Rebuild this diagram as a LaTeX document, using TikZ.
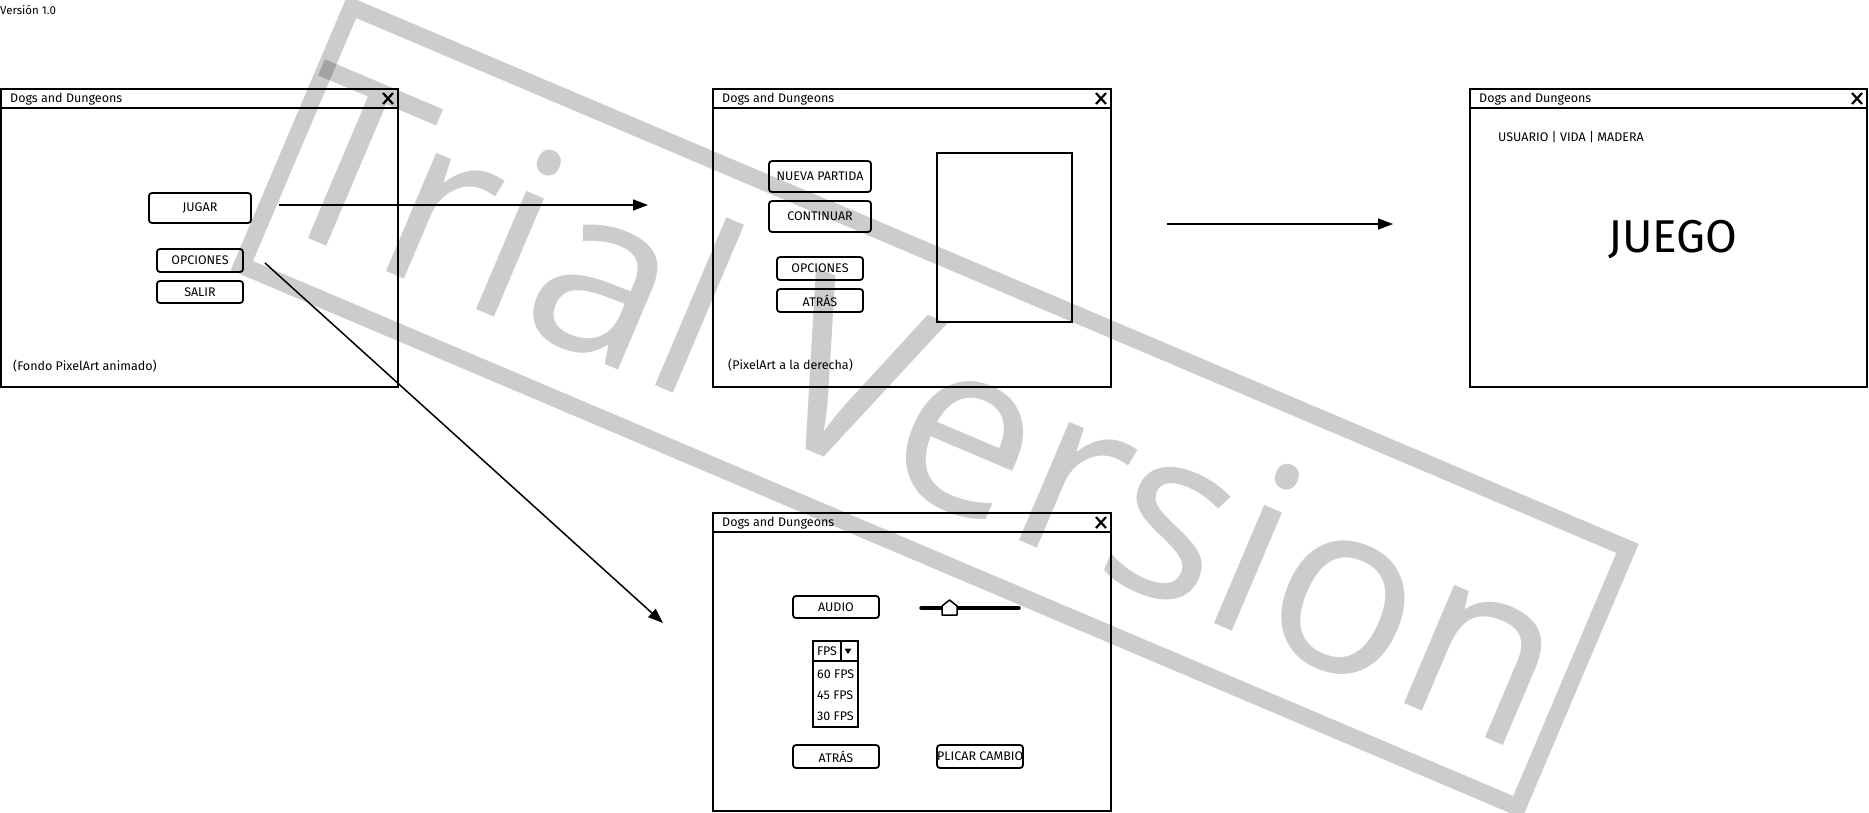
\documentclass[tikz,border=0pt]{standalone}
\usepackage{fontspec}
\setmainfont{Fira Sans}
\newfontfamily\wmfont{Open Sans}
\usetikzlibrary{arrows.meta,calc}
\tikzset{
  win/.style={draw, line width=2pt, rectangle, inner sep=0pt, outer sep=0pt, anchor=north west},
  uitext/.style={inner sep=0pt, font=\fontsize{12.5}{14}\selectfont},
  btn/.style={draw, line width=1.8pt, rounded corners=3pt, inner sep=0pt, outer sep=0pt, uitext},
  ttl/.style={uitext, anchor=west},
  flow/.style={line width=1.5pt, -{Triangle[length=15pt,width=11pt]}},
  closex/.style={line width=2.2pt},
  bar/.style={line width=2pt},
  boxline/.style={draw, line width=1.8pt, inner sep=0pt, outer sep=0pt},
}
\newcommand{\winchrome}[1]{%
  \draw[bar] ($(#1.north west)+(0,19)$) -- ($(#1.north east)+(0,19)$);
  \node[ttl] (#1t) at ($(#1.north west)+(9,10.5)$) {Dogs and Dungeons};
  \draw[closex] ($(#1.north east)+(-15,4)$) -- ++(10,11) ($(#1.north east)+(-15,15)$) -- ++(10,-11);
}
\begin{document}
\begin{tikzpicture}[x=1pt,y=-1pt]
\useasboundingbox (0,0) rectangle (1869,812);
% watermark
\begin{scope}[shift={(934.7,407)},rotate=-23]
  \draw[black, draw opacity=0.2, line width=17pt] (-693,-140.5) rectangle (693,140.5);
  \node[transform shape, anchor=base west, inner sep=0pt, text=black, text opacity=0.2,
        font=\wmfont\fontsize{240}{250}\selectfont] (wm) at (-699.5,89.5) {Trial Version};
\end{scope}
% version
\node[uitext, anchor=west, font=\fontsize{11.5}{13}\selectfont] (ver) at (0,10) {Versión 1.0};
% windows
\node[win, minimum width=397pt, minimum height=298pt] (w1) at (1,89) {};
\node[win, minimum width=398pt, minimum height=298pt] (w2) at (713,89) {};
\node[win, minimum width=397pt, minimum height=298pt] (w3) at (1470,89) {};
\node[win, minimum width=398pt, minimum height=298pt] (w4) at (713,513) {};
\winchrome{w1}\winchrome{w2}\winchrome{w3}\winchrome{w4}
% window 1
\node[btn, minimum width=102pt, minimum height=30pt] (jugar) at (200,208) {JUGAR};
\node[btn, minimum width=86pt, minimum height=23pt] (opc1) at (200,260.5) {OPCIONES};
\node[btn, minimum width=86pt, minimum height=22pt] (salir) at (200,292) {SALIR};
\node[ttl] (fondo) at (13,366) {(Fondo PixelArt animado)};
% window 2
\node[btn, minimum width=102pt, minimum height=31pt] (nueva) at (820,176.5) {NUEVA PARTIDA};
\node[btn, minimum width=102pt, minimum height=31pt] (cont) at (820,216.5) {CONTINUAR};
\node[btn, minimum width=86pt, minimum height=23pt] (opc2) at (820,268.5) {OPCIONES};
\node[btn, minimum width=86pt, minimum height=23pt] (atras2) at (820,300.5) {ATRÁS};
\node[boxline, line width=2pt, minimum width=135pt, minimum height=169pt] (pix) at (1004.5,237.5) {};
\node[ttl] (pixtxt) at (728,365) {(PixelArt a la derecha)};
% window 3
\node[ttl] (hud) at (1498,137) {USUARIO | VIDA | MADERA};
\node[inner sep=0pt, font=\fontsize{46}{50}\selectfont] (juego) at (1673,240) {JUEGO};
% window 4
\node[btn, minimum width=86pt, minimum height=22pt] (audio) at (836,607) {AUDIO};
\coordinate (sl1) at (921,608);
\coordinate (sl2) at (1019,608);
\draw[line width=3.5pt, line cap=round] (sl1) -- (sl2);
\draw[line width=1.5pt, fill=white, line join=round] (942,615) -- (942,606) -- (949.5,600) -- (957,606) -- (957,615) -- cycle;
\node[boxline, anchor=north west, minimum width=45pt, minimum height=20pt] (combo) at (813,641) {};
\draw[line width=1.5pt] (841,641) -- (841,661);
\node[uitext] (fps) at (827,651) {FPS};
\fill (844.5,648.5) -- (851.5,648.5) -- (848,654) -- cycle;
\node[boxline, anchor=north west, minimum width=45pt, minimum height=66pt] (list) at (813,661) {};
\node[ttl] (f60) at (817,674) {60 FPS};
\node[ttl] (f45) at (817,695) {45 FPS};
\node[ttl] (f30) at (817,716) {30 FPS};
\node[btn, minimum width=86pt, minimum height=23pt] (atras4) at (836,756.5) {ATRÁS};
\node[btn, minimum width=86pt, minimum height=23pt] (aplicar) at (980,756.5) {};
\begin{scope}
  \clip ($(aplicar.south west)+(1,-1)$) rectangle ($(aplicar.north east)+(-1,1)$);
  \node[uitext] (aplicart) at (aplicar.center) {APLICAR CAMBIOS};
\end{scope}
% connectors
\coordinate (a1s) at (279,205);
\coordinate (a1e) at (648,205);
\draw[flow] (a1s) -- (a1e);
\coordinate (a2s) at (265,263);
\coordinate (a2e) at (663,623);
\draw[flow] (a2s) -- (a2e);
\coordinate (a3s) at (1167,224);
\coordinate (a3e) at (1393,224);
\draw[flow] (a3s) -- (a3e);
\end{tikzpicture}
\end{document}
